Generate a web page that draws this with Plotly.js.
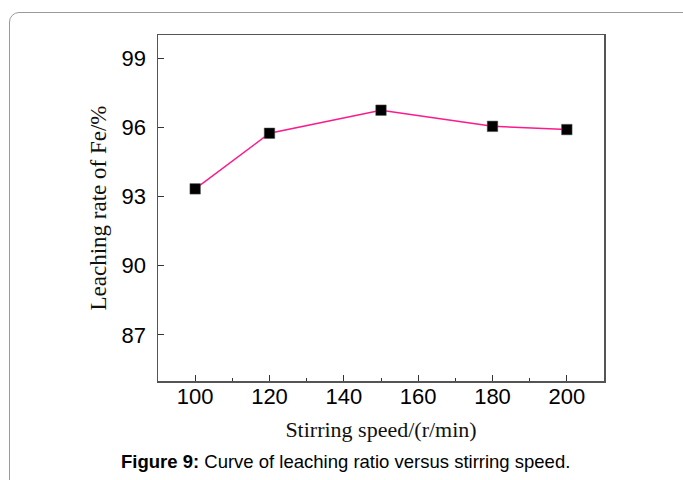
<!DOCTYPE html>
<html>
<head>
<meta charset="utf-8">
<script src="https://cdn.plot.ly/plotly-3.0.1.min.js"></script>
<style>
  html, body { margin: 0; padding: 0; background: #ffffff; }
  #wrap { position: relative; width: 683px; height: 480px; overflow: hidden; }
  #frame { position: absolute; left: 9px; top: 12px; width: 690px; height: 500px;
           border: 1px solid #9a9a9a; border-radius: 10px; box-sizing: border-box; }
  #chart { position: absolute; left: 0; top: 0; width: 683px; height: 480px; }
</style>
</head>
<body>
<div id="wrap">
  <div id="frame"></div>
  <div id="chart"></div>
</div>
<script>
const stirringSpeed = [100, 120, 150, 180, 200];
const leachingRate = [93.33, 95.74, 96.74, 96.04, 95.9];
const xTickVals = [100, 120, 140, 160, 180, 200];
const xMinorTickVals = [110, 130, 150, 170, 190];
const yTickVals = [87, 90, 93, 96, 99];
const xTitle = 'Stirring speed/(r/min)';
const yTitle = 'Leaching rate of Fe/%';
const caption = '<b>Figure 9:</b> Curve of leaching ratio versus stirring speed.';

const trace = {
  x: stirringSpeed,
  y: leachingRate,
  mode: 'lines+markers',
  type: 'scatter',
  line: { color: '#ff1a8c', width: 1.5 },
  marker: { symbol: 'square', size: 10.5, color: '#000000', line: { color: '#555555', width: 0.5 } },
  hoverinfo: 'none'
};

const layout = {
  width: 683,
  height: 480,
  margin: { l: 158, r: 79, t: 35, b: 99, pad: 0 },
  paper_bgcolor: 'rgba(0,0,0,0)',
  plot_bgcolor: 'rgba(0,0,0,0)',
  showlegend: false,
  xaxis: {
    range: [90, 210],
    tickmode: 'array',
    tickvals: xTickVals,
    ticks: 'inside',
    ticklen: 6,
    tickwidth: 1,
    tickcolor: '#333333',
    ticklabelstandoff: -5,
    minor: { tickmode: 'array', tickvals: xMinorTickVals, ticks: 'inside', ticklen: 3, tickcolor: '#333333', tickwidth: 1 },
    showline: true,
    linecolor: '#555555',
    linewidth: 1.5,
    mirror: true,
    showgrid: false,
    zeroline: false,
    tickfont: { family: 'Liberation Sans, Arial, sans-serif', size: 22, color: '#000000' },
    title: { text: xTitle, font: { family: 'Liberation Serif, Times New Roman, serif', size: 22, color: '#111111' }, standoff: 13 }
  },
  yaxis: {
    range: [85, 100],
    tickmode: 'array',
    tickvals: yTickVals,
    ticks: 'inside',
    ticklen: 6,
    tickwidth: 1,
    tickcolor: '#333333',
    ticklabelstandoff: 6,
    showline: true,
    linecolor: '#555555',
    linewidth: 1.5,
    mirror: true,
    showgrid: false,
    zeroline: false,
    tickfont: { family: 'Liberation Sans, Arial, sans-serif', size: 22, color: '#000000' },
    title: { text: yTitle, font: { family: 'Liberation Serif, Times New Roman, serif', size: 23, color: '#111111' }, standoff: 8 }
  },
  annotations: [{
    text: caption,
    xref: 'paper', yref: 'paper',
    x: 0.42, y: -0.234,
    xanchor: 'center', yanchor: 'middle',
    showarrow: false,
    font: { family: 'Liberation Sans, Arial, sans-serif', size: 18.5, color: '#000000' }
  }]
};

Plotly.newPlot('chart', [trace], layout, { staticPlot: true, displayModeBar: false });
</script>
</body>
</html>
